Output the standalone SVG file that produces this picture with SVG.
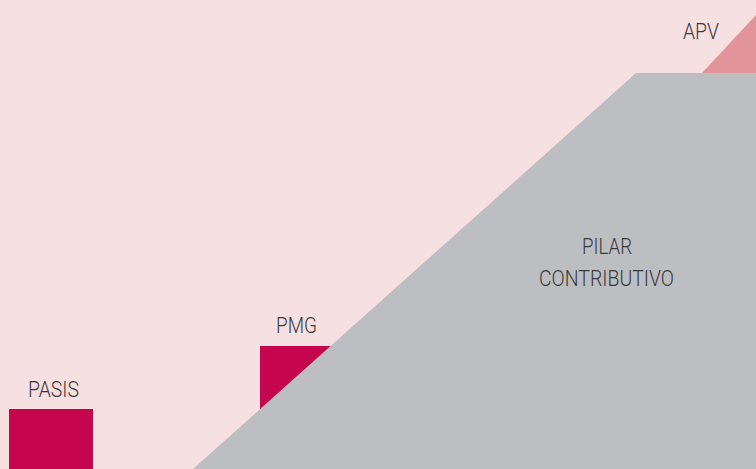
<svg xmlns="http://www.w3.org/2000/svg" width="756" height="469" viewBox="0 0 756 469">
<style>
.lbl{font-family:Roboto,"Liberation Sans",sans-serif;font-weight:300;font-size:22px;fill:#3a3a3a;text-anchor:middle}
</style>
<rect x="0" y="0" width="756" height="469" fill="#F7E0E1"/>
<g id="pasis">
<rect x="9" y="409" width="84" height="60" fill="#C5064E"/>
<text class="lbl" x="53.5" y="397" textLength="51" lengthAdjust="spacingAndGlyphs">PASIS</text>
</g>
<g id="pmg">
<rect x="260" y="346" width="90" height="80" fill="#C5064E"/>
<text class="lbl" x="296.5" y="333" textLength="41" lengthAdjust="spacingAndGlyphs">PMG</text>
</g>
<g id="apv">
<polygon points="702,73 756,15 756,73" fill="#E1959B"/>
<text class="lbl" x="701" y="39" textLength="36" lengthAdjust="spacingAndGlyphs">APV</text>
</g>
<g id="pilar">
<polygon points="193,469 636,73 756,73 756,469" fill="#BDBEC1"/>
<text class="lbl" x="607" y="254" textLength="50" lengthAdjust="spacingAndGlyphs">PILAR</text>
<text class="lbl" x="606.5" y="286" textLength="135" lengthAdjust="spacingAndGlyphs">CONTRIBUTIVO</text>
</g>
<g id="connectors"/>
</svg>
